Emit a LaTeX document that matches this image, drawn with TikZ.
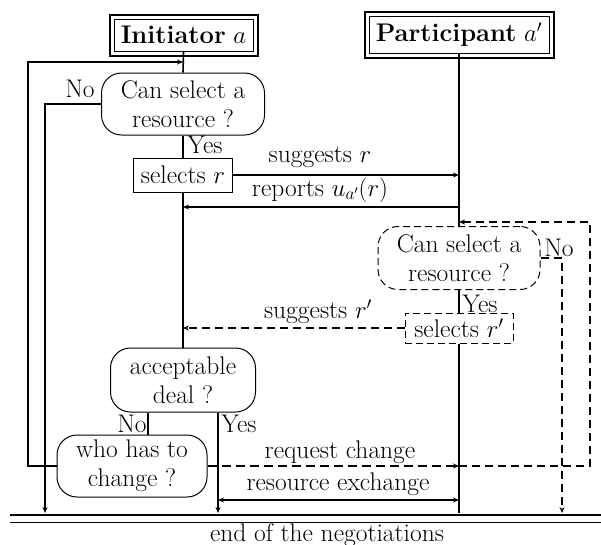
\documentclass[tikz,border=0pt]{standalone}
\usetikzlibrary{arrows.meta,calc}
\begin{document}
\begin{tikzpicture}[x=1pt,y=-1pt,
  font=\fontsize{25.5}{29}\selectfont,
  >={Stealth[length=6pt,width=5pt]},
  lifeline/.style={line width=1.6pt},
  conn/.style={line width=1.4pt},
  dconn/.style={line width=1.4pt, dash pattern=on 8pt off 5pt},
  tdconn/.style={line width=1.1pt, dash pattern=on 9pt off 5pt},
  rbox/.style={draw, line width=1pt, rounded corners=20pt, align=center, inner sep=0pt},
  sbox/.style={draw, line width=1pt, align=center, inner sep=0pt},
  dashbox/.style={dash pattern=on 7pt off 4pt},
  lbl/.style={inner sep=0pt},
]
\useasboundingbox (0,0) rectangle (601,544);

% agents
\node[sbox, minimum width=139pt, minimum height=32pt] (ini) at (183.5,35) {\textbf{Initiator} $a$};
\node[sbox, minimum width=180pt, minimum height=37pt] (par) at (459,35) {\textbf{Participant} $a'$};
\draw[line width=2pt] ($(ini.north west)+(-4,-4)$) rectangle ($(ini.south east)+(4,4)$);
\draw[line width=2pt] ($(par.north west)+(-4,-4)$) rectangle ($(par.south east)+(4,4)$);

% steps
\node[rbox, minimum width=163pt, minimum height=62pt] (cs1) at (183,104) {Can select a\\resource ?};
\node[sbox, minimum width=99pt, minimum height=34pt] (sr) at (183,175) {selects $r$};
\node[rbox, dashbox, minimum width=162pt, minimum height=63pt] (cs2) at (459,258) {Can select a\\resource ?};
\node[sbox, dashbox, minimum width=108pt, minimum height=30pt] (sr2) at (459,328) {selects $r'$};
\node[rbox, minimum width=145pt, minimum height=64pt] (acc) at (183,380) {acceptable\\deal ?};
\node[rbox, minimum width=150pt, minimum height=62pt] (who) at (132,466) {who has to\\change ?};

% coordinates
\coordinate (iTop) at (183,62);
\coordinate (bL) at (45,513);
\coordinate (sugR) at (459,175);
\coordinate (repR) at (459,207);
\coordinate (repI) at (183,207);
\coordinate (sugI) at (183,328);
\coordinate (pBot) at (459,513);
\coordinate (yB) at (218,513);
\coordinate (reqP) at (459,466);
\coordinate (loopP) at (459,222);
\coordinate (bR) at (562,513);
\coordinate (reL) at (218,500);
\coordinate (reR) at (459,500);

% initiator lifeline
\draw[lifeline] (ini.south) -- (cs1.north);
\draw[lifeline] (cs1.south) -- (sr.north);
\draw[lifeline] (sr.south) -- (acc.north);
\draw[conn,->] (who.west) -- (28,466) -- (28,62) -- (iTop);
\draw[conn,->] (cs1.west) -- (45,104) -- (bL);
\draw[conn] ($(acc.south)+(-35,0)$) -- ($(who.north)+(16,0)$);
\draw[conn,->] ($(acc.south)+(35,0)$) -- (yB);

% participant lifeline
\draw[lifeline] (par.south) -- (cs2.north);
\draw[lifeline] (cs2.south) -- (sr2.north);
\draw[lifeline] (sr2.south) -- (pBot);

% messages
\draw[conn,->] (sr.east) -- (sugR);
\draw[conn,->] (repR) -- (repI);
\draw[dconn,->] (sr2.west) -- (sugI);
\draw[tdconn,->] (who.east) -- (reqP);
\draw[dconn,->] (reqP) -- (590,466) -- (590,222) -- (loopP);
\draw[dconn,->] (cs2.east) -- (562,258) -- (bR);
\draw[line width=2.4pt,<->] (reL) -- (reR);

% end line
\draw[line width=2.5pt] (10,515) -- (601,515);
\draw[line width=1pt] (10,522) -- (601,522);
\node[lbl] (endl) at (327,535) {end of the negotiations};

% labels
\node[lbl] (no1) at (80,89) {No};
\node[lbl] (yes1) at (205,145) {Yes};
\node[lbl] (lsug) at (320,157) {suggests $r$};
\node[lbl] (lrep) at (320,190) {reports $u_{a'}(r)$};
\node[lbl] (no2) at (559,248) {No};
\node[lbl] (yes2) at (480,304) {Yes};
\node[lbl] (lsug2) at (318,312) {suggests $r'$};
\node[lbl] (no3) at (132,424) {No};
\node[lbl] (yes3) at (239,424) {Yes};
\node[lbl] (lreq) at (340,452) {request change};
\node[lbl] (lres) at (338,484) {resource exchange};
\end{tikzpicture}
\end{document}
